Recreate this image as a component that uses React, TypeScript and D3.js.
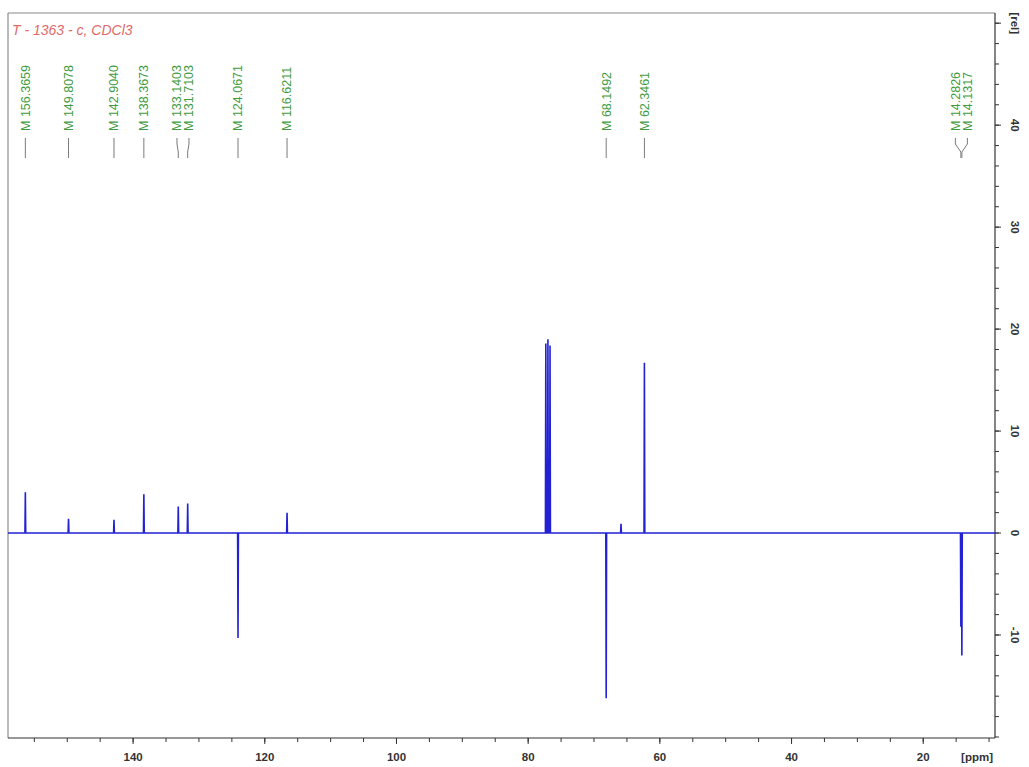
import React from "react";
import * as d3 from "d3";

// ---- data ----
const title = "T - 1363 - c, CDCl3";
const peakPpm = [156.3659, 149.8078, 142.904, 138.3673, 133.1403, 131.7103, 124.0671, 116.6211, 77.32, 77.0, 76.68, 68.1492, 65.9, 62.3461, 14.2826, 14.1317];
const peakHeight = [4.0, 1.4, 1.3, 3.8, 2.6, 2.9, -10.3, 2.0, 18.6, 19.0, 18.4, -16.2, 0.9, 16.7, -9.2, -12.0];
const labelPpm = [156.3659, 149.8078, 142.904, 138.3673, 133.1403, 131.7103, 124.0671, 116.6211, 68.1492, 62.3461, 14.2826, 14.1317];
const labelText = labelPpm.map((p) => "M " + p.toFixed(4));
const xMajorTicks = [140, 120, 100, 80, 60, 40, 20];
const yMajorTicks = [40, 30, 20, 10, 0, -10];
const xUnit = "[ppm]";
const yUnit = "[rel]";

const W = 1029;
const H = 767;
const L = 8, R = 995, T = 13, B = 738;

export default function App() {
  const x = d3.scaleLinear().domain([159.0, 9.1]).range([L, R]);
  const y = d3.scaleLinear().domain([-20.1, 51.0]).range([B, T]);

  // spectrum path built from the peak list
  const hw = 0.06;
  const order = d3.range(peakPpm.length).sort((a, b) => peakPpm[b] - peakPpm[a]);
  const pts: [number, number][] = [[159.0, 0]];
  order.forEach((i) => {
    pts.push([peakPpm[i] + hw, 0], [peakPpm[i], peakHeight[i]], [peakPpm[i] - hw, 0]);
  });
  pts.push([9.1, 0]);
  const line = d3.line<[number, number]>().x((d) => x(d[0])).y((d) => y(d[1]));

  // label positions with overlap spreading
  const minGap = 12;
  const lx = labelPpm.map((p) => x(p));
  const pos = lx.slice();
  for (let iter = 0; iter < 50; iter++) {
    for (let i = 1; i < pos.length; i++) {
      const d = pos[i] - pos[i - 1];
      if (d < minGap) {
        const shift = (minGap - d) / 2;
        pos[i - 1] -= shift;
        pos[i] += shift;
      }
    }
  }

  const xMinor = d3.range(155, 9, -5);
  const yMinor = d3.range(-20, 51, 2);

  const axisColor = "#333";
  const green = "#3f9b3f";
  const textFont = "'Liberation Sans', Arial, sans-serif";

  return (
    <div style={{ position: "absolute", left: 0, top: 0 }}>
      <svg width={W} height={H} style={{ display: "block", background: "#fff" }} fontFamily={textFont}>
        {/* frame */}
        <line x1={L} x2={R} y1={T} y2={T} stroke="#8a8a8a" strokeWidth={1.2} />
        <line x1={L} x2={L} y1={T} y2={B} stroke="#8a8a8a" strokeWidth={1.2} />
        <line x1={L} x2={R} y1={B} y2={B} stroke={axisColor} strokeWidth={1.2} />
        <line x1={R} x2={R} y1={T} y2={B} stroke={axisColor} strokeWidth={1.2} />

        {/* title */}
        <text x={12} y={35} fontSize={14} fontStyle="italic" fill="#e06a6a">{title}</text>

        {/* x axis ticks */}
        {xMinor.map((v) => (
          <line key={"xm" + v} x1={x(v)} x2={x(v)} y1={B} y2={B + 4} stroke={axisColor} strokeWidth={1} />
        ))}
        {xMajorTicks.map((v) => (
          <g key={"xt" + v}>
            <line x1={x(v)} x2={x(v)} y1={B} y2={B + 6} stroke={axisColor} strokeWidth={1} />
            <text x={x(v)} y={761} textAnchor="middle" fontSize={11.5} fontWeight="bold" fill="#333">{v}</text>
          </g>
        ))}
        <text x={R - 2} y={761} textAnchor="end" fontSize={11.5} fontWeight="bold" fill="#333">{xUnit}</text>

        {/* y axis ticks (right) */}
        {yMinor.map((v) => (
          <line key={"ym" + v} x1={R} x2={R + 4} y1={y(v)} y2={y(v)} stroke={axisColor} strokeWidth={1} />
        ))}
        {yMajorTicks.map((v) => (
          <g key={"yt" + v}>
            <line x1={R} x2={R + 6} y1={y(v)} y2={y(v)} stroke={axisColor} strokeWidth={1} />
            <text transform={`translate(1011,${y(v)}) rotate(90)`} textAnchor="middle" fontSize={11.5} fontWeight="bold" fill="#333">{v}</text>
          </g>
        ))}
        <line x1={R} x2={R + 6} y1={y(50)} y2={y(50)} stroke={axisColor} strokeWidth={1} />
        <text transform={`translate(1011,${y(50)}) rotate(90)`} textAnchor="middle" fontSize={11.5} fontWeight="bold" fill="#333">{yUnit}</text>

        {/* spectrum */}
        <path d={line(pts) || ""} fill="none" stroke="#2222d4" strokeWidth={1.6} strokeLinejoin="miter" />

        {/* peak labels */}
        {labelText.map((t, i) => {
          const px = pos[i];
          const peakX = lx[i];
          const bent = Math.abs(px - peakX) > 0.5;
          const d = bent
            ? `M${px},138 L${px},144 L${peakX},152 L${peakX},158`
            : `M${px},138 L${px},158`;
          return (
            <g key={"lab" + i}>
              <text transform={`translate(${px},131) rotate(-90)`} dy="0.35em" fontSize={12.5} fill={green}>{t}</text>
              <path d={d} fill="none" stroke="#7a7a7a" strokeWidth={1} />
            </g>
          );
        })}
      </svg>
    </div>
  );
}
